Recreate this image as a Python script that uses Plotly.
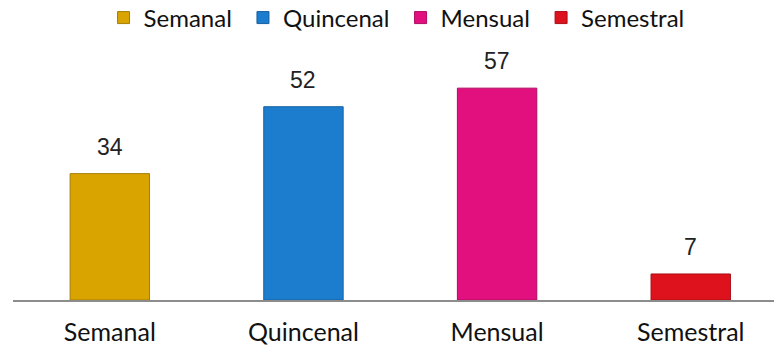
import plotly.graph_objects as go

# Frequency categories and their counts
categories = ["Semanal", "Quincenal", "Mensual", "Semestral"]
values = [34, 52, 57, 7]
bar_colors = ["#D9A300", "#1C7DCF", "#E2107F", "#DE121C"]
edge_colors = ["#A67D00", "#15609F", "#AD0C61", "#A80E15"]

label_font = "Lato, 'Open Sans', sans-serif"
value_font = "'Liberation Sans', Arial, sans-serif"
NBSP = "\u00a0"

fig = go.Figure()
for i, (cat, val, col, edge) in enumerate(zip(categories, values, bar_colors, edge_colors)):
    # a little extra room after each legend entry except the last
    legend_name = cat + (NBSP if i < len(categories) - 1 else "")
    fig.add_trace(go.Bar(
        x=[cat], y=[val], name=legend_name,
        marker=dict(color=col, line=dict(color=edge, width=1)),
        width=0.41,
        hovertemplate=f"{cat}: %{{y}}<extra></extra>",
    ))
    # value label above each bar
    fig.add_annotation(
        x=cat, y=val, text=str(val), showarrow=False,
        yanchor="bottom", yshift=12,
        font=dict(family=value_font, size=23, color="#222222"),
    )

fig.update_layout(
    width=775, height=346,
    margin=dict(l=13, r=1, t=77, b=46),
    paper_bgcolor="white", plot_bgcolor="white",
    barmode="overlay",
    showlegend=True,
    legend=dict(
        orientation="h", x=0.504, xanchor="center",
        yref="container", y=0.948, yanchor="middle",
        font=dict(family=label_font, size=24, color="#111111"),
        itemclick=False, itemdoubleclick=False,
        traceorder="normal",
    ),
    xaxis=dict(
        type="category", range=[-0.5, 3.43],
        showline=True, linecolor="#8C8C8C", linewidth=2,
        showgrid=False, ticks="", ticklabelstandoff=9,
        tickfont=dict(family=label_font, size=25, color="#111111"),
    ),
    yaxis=dict(
        range=[0, 60], visible=False, showgrid=False, zeroline=False,
    ),
)

fig.write_html("out.html")
